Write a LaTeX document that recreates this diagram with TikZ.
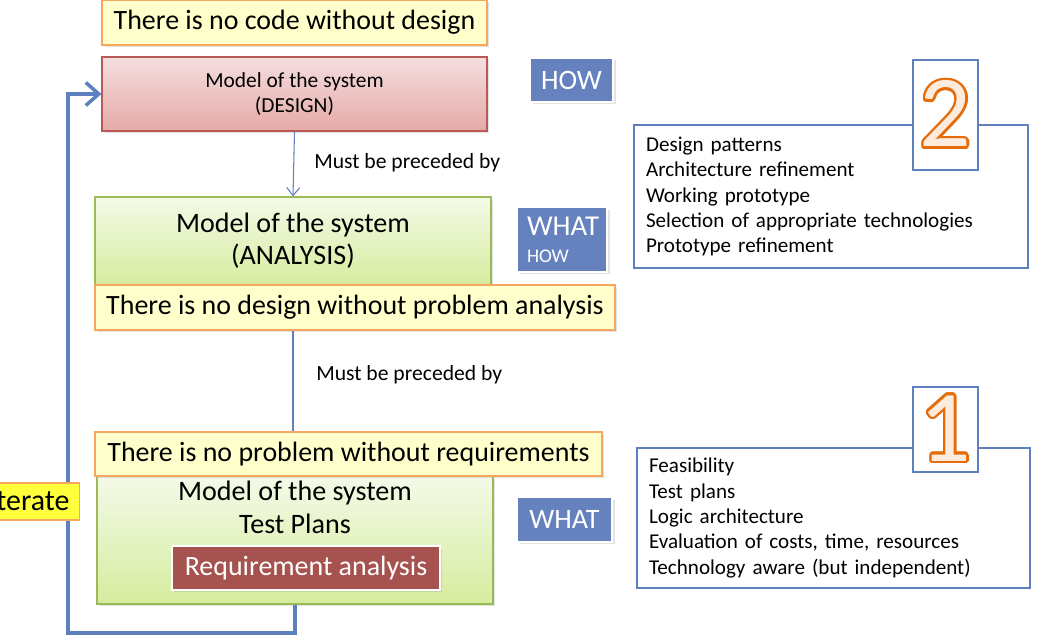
\documentclass[tikz,border=0pt]{standalone}
\usepackage{fontspec}
\setmainfont{Carlito}
\usepackage[copies]{contour}
\usetikzlibrary{arrows.meta,positioning,calc,shadows}
\definecolor{noteline}{RGB}{247,166,96}
\definecolor{notefill}{RGB}{255,255,204}
\definecolor{designline}{RGB}{185,90,88}
\definecolor{designtop}{RGB}{244,222,222}
\definecolor{designbot}{RGB}{229,170,168}
\definecolor{anaine}{RGB}{155,187,89}
\definecolor{anatop}{RGB}{244,250,232}
\definecolor{anabot}{RGB}{214,236,158}
\definecolor{tagblue}{RGB}{101,129,190}
\definecolor{flowblue}{RGB}{95,128,190}
\definecolor{reqred}{RGB}{166,83,79}
\definecolor{iteryellow}{RGB}{255,255,60}
\definecolor{numorange}{RGB}{228,108,10}
\definecolor{numfill}{RGB}{253,236,222}
\contourlength{1.4pt}
\newcommand{\numdigit}[1]{\contour{numorange}{\textcolor{numfill}{#1}}}
\tikzset{
  boxshadow/.style={drop shadow={shadow xshift=0.05cm, shadow yshift=-0.05cm, opacity=0.22}},
  notebox/.style={draw=noteline, fill=notefill, line width=0.7pt, inner sep=0pt, boxshadow,
    font=\fontsize{15.9}{18}\selectfont},
  designbox/.style={draw=designline, top color=designtop, bottom color=designbot, line width=0.7pt,
    inner sep=0pt, align=center, boxshadow, font=\fontsize{12.2}{14.2}\selectfont},
  anabox/.style={draw=anaine, top color=anatop, bottom color=anabot, line width=0.7pt,
    inner sep=0pt, align=center, boxshadow, font=\fontsize{16}{18.2}\selectfont},
  anatext/.style={inner sep=0pt, align=center, font=\fontsize{16}{18.8}\selectfont},
  tagbox/.style={fill=tagblue, draw=white, line width=1.2pt, text=white, inner sep=0pt, boxshadow,
    font=\fontsize{16}{18}\selectfont},
  reqbox/.style={fill=reqred, draw=white, line width=1.2pt, text=white, inner sep=0pt, boxshadow,
    font=\fontsize{15.9}{18}\selectfont},
  listbox/.style={draw=flowblue, fill=white, line width=1.1pt, align=left, inner ysep=0pt,
    inner xsep=0.24cm, font=\fontsize{12}{14.5}\selectfont},
  numbox/.style={draw=flowblue, fill=white, line width=1.1pt, inner sep=0pt,
    font=\fontsize{58}{60}\selectfont},
  iterbox/.style={draw=noteline, fill=iteryellow, line width=0.7pt, inner ysep=0pt, inner xsep=0.2cm,
    font=\fontsize{17}{18}\selectfont},
  precede/.style={-{Straight Barb[length=1.6mm,width=2.6mm]}, line width=0.6pt, flowblue},
  plainln/.style={line width=0.6pt, flowblue},
  loopln/.style={-{Straight Barb[length=2.6mm,width=4.6mm]}, line width=2pt, flowblue},
  lbl/.style={font=\fontsize{12.3}{14}\selectfont, inner sep=0pt}
}
\begin{document}
\begin{tikzpicture}[x=0.02cm, y=-0.02cm]
  \useasboundingbox (0,0) rectangle (1037,644);
  % left column: design, analysis, requirements
  \node[notebox, minimum width=7.7cm, minimum height=0.9cm] (codenote) at (294.5,22.5) {There is no code without design};
  \node[designbox, minimum width=7.7cm, minimum height=1.48cm] (design) at (294.5,94) {Model of the system\\(DESIGN)};
  \node[anabox, minimum width=7.92cm, minimum height=1.76cm] (analysis) at (293,241) {Model of the system\\(ANALYSIS)};
  \node[notebox, minimum width=10.4cm, minimum height=0.9cm] (designnote) at (355,307.5) {There is no design without problem analysis};
  \node[anabox, minimum width=7.92cm, minimum height=2.56cm] (reqmodel) at (295,540) {};
  \node[notebox, minimum width=10.14cm, minimum height=0.88cm] (probnote) at (348.5,454) {There is no problem without requirements};
  \node[anatext] (reqtext) at (295,507.5) {Model of the system\\Test Plans};
  \node[reqbox, minimum width=5.36cm, minimum height=0.88cm] (reqan) at (306,568) {Requirement analysis};
  % tags
  \node[tagbox, minimum width=1.66cm, minimum height=0.88cm] (taghow) at (571.5,80) {HOW};
  \node[tagbox, minimum width=1.8cm, minimum height=1.3cm, text width=1.4cm, inner xsep=0.2cm, align=left,
    font=\fontsize{16.4}{15.4}\selectfont] (tagwhathow) at (562,239.5) {WHAT\\{\fontsize{11}{12}\selectfont HOW}};
  \node[tagbox, minimum width=1.9cm, minimum height=0.9cm] (tagwhat) at (564.5,519.5) {WHAT};
  % connectors
  \draw[precede] (design.south) -- (analysis.north);
  \node[lbl, anchor=west] (prec1) at (314,163) {Must be preceded by};
  \draw[plainln] (analysis.south |- designnote.south) -- (analysis.south |- probnote.north);
  \node[lbl, anchor=west] (prec2) at (316,375) {Must be preceded by};
  % iterate loop
  \coordinate (loopcorner) at (68,633);
  \draw[loopln] (reqmodel.south) |- (loopcorner) |- (design.west);
  \node[iterbox, anchor=east, minimum height=0.74cm] (iter) at (80,501.5) {Iterate};
  % right column: activity lists
  \node[listbox, minimum width=7.88cm, minimum height=2.86cm, text width=7.4cm] (phasetwo) at (831,196.5)
    {Design patterns\\Architecture refinement\\Working prototype\\Selection of appropriate technologies\\Prototype refinement};
  \node[numbox, minimum width=1.3cm, minimum height=2.2cm] (numtwo) at (945.5,115) {\numdigit{2}};
  \node[listbox, minimum width=7.86cm, minimum height=2.8cm, text width=7.38cm] (phaseone) at (833.5,518)
    {Feasibility\\Test plans\\Logic architecture\\Evaluation of costs, time, resources\\Technology aware (but independent)};
  \node[numbox, minimum width=1.3cm, minimum height=1.7cm] (numone) at (945.5,429.5) {\numdigit{1}};
\end{tikzpicture}
\end{document}
